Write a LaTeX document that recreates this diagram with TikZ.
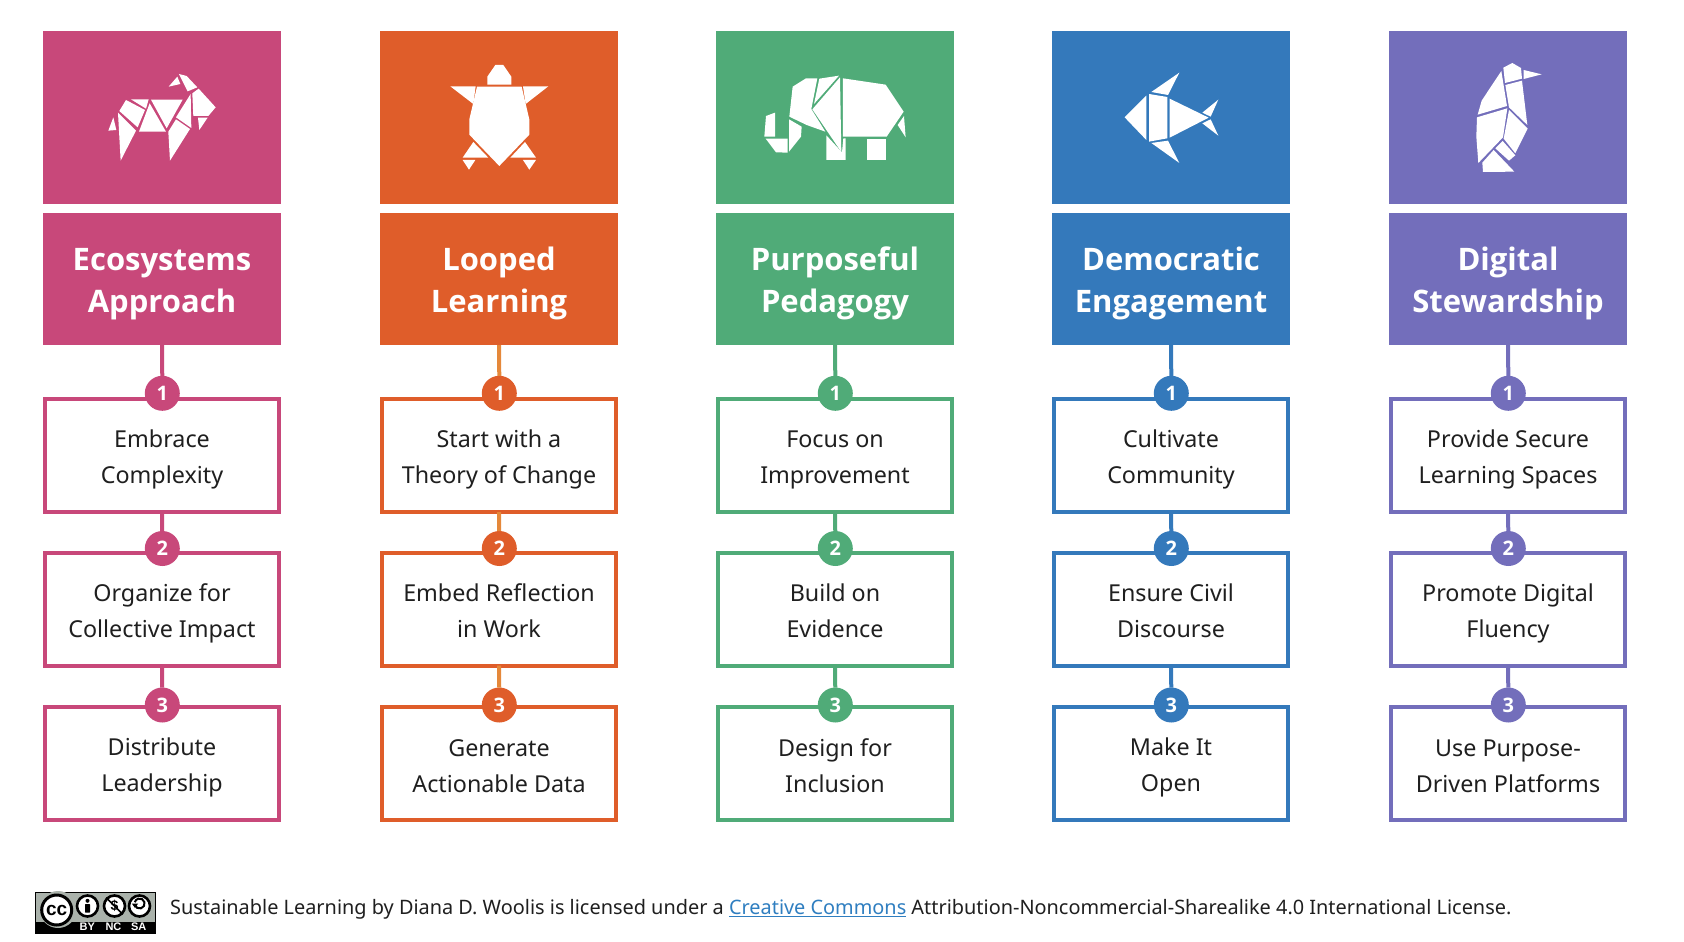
\documentclass[tikz,border=0pt]{standalone}
\usepackage{fontspec}
\setmainfont{Noto Sans}
\newfontfamily\headface{Open Sans}
\newfontfamily\ccface{Liberation Sans}
\definecolor{ecopink}{HTML}{C8487A}
\definecolor{loopred}{HTML}{DF5D2A}
\definecolor{looplink}{HTML}{E5883A}
\definecolor{purpgreen}{HTML}{50AB78}
\definecolor{demoblue}{HTML}{3479BB}
\definecolor{digipurple}{HTML}{736EBB}
\definecolor{inktext}{HTML}{1F1F1F}
\definecolor{linkblue}{HTML}{2F7EC0}
\definecolor{ccgray}{HTML}{AAB2AB}
\newcommand{\headlines}[2]{\rule{0pt}{32pt}#1\\#2\rule[-6.6pt]{0pt}{6.6pt}}
\newcommand{\boxlines}[2]{\rule{0pt}{26pt}#1\\#2\rule[-5pt]{0pt}{5pt}}
\tikzset{
  tile/.style={fill=#1,minimum width=238pt,minimum height=173pt,inner sep=0pt,outer sep=0pt},
  head/.style={fill=#1,minimum width=238pt,minimum height=132pt,inner sep=0pt,outer sep=0pt,text=white,align=center,
    font=\fontsize{31}{41.5}\selectfont\headface\bfseries},
  stepbox/.style={draw=#1,line width=4pt,fill=white,minimum width=234pt,minimum height=113pt,inner sep=0pt,outer sep=0pt,
    text=inktext,align=center,font=\fontsize{23.3}{36}\selectfont},
  num/.style={circle,fill=#1,minimum size=35pt,inner sep=0pt,outer sep=0pt,text=white,font=\fontsize{20}{20}\selectfont\headface\bfseries},
  link/.style={draw=#1,line width=4pt},
  shard/.style={fill=white},
  icon/.style={x=0.3333pt,y=-0.3333pt},
  ccring/.style={circle,draw=black,line width=2.6pt,fill=white,minimum size=21pt,inner sep=0pt},
  cclabel/.style={text=white,inner sep=0pt,font=\fontsize{11}{11}\selectfont\ccface\bfseries},
}
\begin{document}
\begin{tikzpicture}[x=1pt,y=-1pt]
\useasboundingbox (0,0) rectangle (1684,942);
\node[tile=ecopink] (tile1) at (162,117.5) {};
\node[tile=loopred] (tile2) at (499,117.5) {};
\node[tile=purpgreen] (tile3) at (835,117.5) {};
\node[tile=demoblue] (tile4) at (1171,117.5) {};
\node[tile=digipurple] (tile5) at (1508,117.5) {};
\node[head=ecopink] (head1) at (162,279) {\headlines{Ecosystems}{Approach}};
\node[head=loopred] (head2) at (499,279) {\headlines{Looped}{Learning}};
\node[head=purpgreen] (head3) at (835,279) {\headlines{Purposeful}{Pedagogy}};
\node[head=demoblue] (head4) at (1171,279) {\headlines{Democratic}{Engagement}};
\node[head=digipurple] (head5) at (1508,279) {\headlines{Digital}{Stewardship}};
\node[stepbox=ecopink] (box11) at (162,455.5) {\boxlines{Embrace}{Complexity}};
\node[stepbox=ecopink] (box12) at (162,609) {\boxlines{Organize for}{Collective Impact}};
\node[stepbox=ecopink] (box13) at (162,763.5) {\boxlines{Distribute}{Leadership}};
\node[stepbox=loopred] (box21) at (499,455.5) {\boxlines{Start with a}{Theory of Change}};
\node[stepbox=loopred] (box22) at (499,609) {\boxlines{Embed Reflection}{in Work}};
\node[stepbox=loopred] (box23) at (499,763.5) {\boxlines{Generate}{Actionable Data}};
\node[stepbox=purpgreen] (box31) at (835,455.5) {\boxlines{Focus on}{Improvement}};
\node[stepbox=purpgreen] (box32) at (835,609) {\boxlines{Build on}{Evidence}};
\node[stepbox=purpgreen] (box33) at (835,763.5) {\boxlines{Design for}{Inclusion}};
\node[stepbox=demoblue] (box41) at (1171,455.5) {\boxlines{Cultivate}{Community}};
\node[stepbox=demoblue] (box42) at (1171,609) {\boxlines{Ensure Civil}{Discourse}};
\node[stepbox=demoblue] (box43) at (1171,763.5) {\boxlines{Make It}{Open}};
\node[stepbox=digipurple] (box51) at (1508,455.5) {\boxlines{Provide Secure}{Learning Spaces}};
\node[stepbox=digipurple] (box52) at (1508,609) {\boxlines{Promote Digital}{Fluency}};
\node[stepbox=digipurple] (box53) at (1508,763.5) {\boxlines{Use Purpose-}{Driven Platforms}};
\node[num=ecopink] (num11) at (162.3,393.3) {1};
\node[num=ecopink] (num12) at (162.3,548.5) {2};
\node[num=ecopink] (num13) at (162.3,705) {3};
\node[num=loopred] (num21) at (499.3,393.3) {1};
\node[num=loopred] (num22) at (499.3,548.5) {2};
\node[num=loopred] (num23) at (499.3,705) {3};
\node[num=purpgreen] (num31) at (835.3,393.3) {1};
\node[num=purpgreen] (num32) at (835.3,548.5) {2};
\node[num=purpgreen] (num33) at (835.3,705) {3};
\node[num=demoblue] (num41) at (1171.3,393.3) {1};
\node[num=demoblue] (num42) at (1171.3,548.5) {2};
\node[num=demoblue] (num43) at (1171.3,705) {3};
\node[num=digipurple] (num51) at (1508.3,393.3) {1};
\node[num=digipurple] (num52) at (1508.3,548.5) {2};
\node[num=digipurple] (num53) at (1508.3,705) {3};
\draw[link=ecopink] (head1) -- (num11);
\draw[link=ecopink] (box11) -- (num12);
\draw[link=ecopink] (box12) -- (num13);
\draw[link=looplink] (head2) -- (num21);
\draw[link=looplink] (box21) -- (num22);
\draw[link=looplink] (box22) -- (num23);
\draw[link=purpgreen] (head3) -- (num31);
\draw[link=purpgreen] (box31) -- (num32);
\draw[link=purpgreen] (box32) -- (num33);
\draw[link=demoblue] (head4) -- (num41);
\draw[link=demoblue] (box41) -- (num42);
\draw[link=demoblue] (box42) -- (num43);
\draw[link=digipurple] (head5) -- (num51);
\draw[link=digipurple] (box51) -- (num52);
\draw[link=digipurple] (box52) -- (num53);
\begin{scope}[shift={(40,30)},icon]
\fill[shard] (386,170) -- (412,140) -- (421,162) -- cycle;
\fill[shard] (417,132) -- (440,138) -- (472,172) -- (443,184) -- cycle;
\fill[shard] (457,190) -- (476,176) -- (527,232) -- (505,258) -- (460,258) -- cycle;
\fill[shard] (474,263) -- (503,263) -- (478,300) -- cycle;
\fill[shard] (452,192) -- (454,294) -- (408,262) -- cycle;
\fill[shard] (333,209) -- (428,209) -- (380,295) -- cycle;
\fill[shard] (329,220) -- (378,305) -- (297,305) -- cycle;
\fill[shard] (408,268) -- (450,297) -- (390,392) -- (385,305) -- cycle;
\fill[shard] (273,208) -- (326,208) -- (318,236) -- cycle;
\fill[shard] (258,210) -- (315,240) -- (293,292) -- (238,243) -- cycle;
\fill[shard] (234,248) -- (288,302) -- (242,392) -- cycle;
\fill[shard] (220,262) -- (229,300) -- (205,302) -- cycle;
\end{scope}
\begin{scope}[shift={(375,30)},icon]
\fill[shard] (337,164) -- (337,140) -- (361,105) -- (385,105) -- (409,140) -- (409,164) -- cycle;
\fill[shard] (226,169) -- (302,169) -- (295,222) -- cycle;
\fill[shard] (444,169) -- (520,169) -- (452,222) -- cycle;
\fill[shard] (306,170) -- (440,170) -- (463,268) -- (463,314) -- (373,408) -- (283,314) -- (283,268) -- cycle;
\fill[shard] (263,383) -- (295,336) -- (340,383) -- cycle;
\fill[shard] (406,383) -- (450,336) -- (483,383) -- cycle;
\fill[shard] (263,390) -- (301,390) -- (282,419) -- cycle;
\fill[shard] (444,390) -- (483,390) -- (463,419) -- cycle;
\end{scope}
\begin{scope}[shift={(710,30)},icon]
\fill[shard] (168,258) -- (195,248) -- (195,320) -- (163,320) -- cycle;
\fill[shard] (167,326) -- (233,326) -- (233,368) -- (198,367) -- cycle;
\fill[shard] (237,268) -- (275,290) -- (273,320) -- (237,365) -- cycle;
\fill[shard] (248,170) -- (288,145) -- (322,145) -- (304,237) -- (346,305) -- (290,285) -- (238,260) -- cycle;
\fill[shard] (328,146) -- (387,137) -- (312,222) -- cycle;
\fill[shard] (390,142) -- (394,366) -- (307,238) -- cycle;
\fill[shard] (349,316) -- (396,367) -- (400,325) -- (407,325) -- (407,390) -- (349,390) -- cycle;
\fill[shard] (399,145) -- (527,164) -- (581,245) -- (530,320) -- (399,320) -- cycle;
\fill[shard] (471,327) -- (529,327) -- (529,390) -- (471,390) -- cycle;
\fill[shard] (582,258) -- (587,322) -- (563,285) -- cycle;
\end{scope}
\begin{scope}[shift={(1050,30)},icon]
\fill[shard] (304,186) -- (388,128) -- (354,195) -- cycle;
\fill[shard] (304,339) -- (354,332) -- (388,399) -- cycle;
\fill[shard] (224,262) -- (289,197) -- (289,330) -- cycle;
\fill[shard] (297,192) -- (352,201) -- (352,325) -- (297,335) -- cycle;
\fill[shard] (359,206) -- (476,263) -- (359,323) -- cycle;
\fill[shard] (457,248) -- (505,209) -- (482,260) -- cycle;
\fill[shard] (457,280) -- (482,268) -- (505,317) -- cycle;
\end{scope}
\begin{scope}[shift={(1385,30)},icon]
\fill[shard] (355,113) -- (382,99) -- (408,114) -- (411,146) -- (360,159) -- cycle;
\fill[shard] (416,120) -- (470,133) -- (416,147) -- cycle;
\fill[shard] (349,123) -- (366,228) -- (278,254) -- (290,212) -- cycle;
\fill[shard] (361,165) -- (411,152) -- (427,285) -- (372,232) -- cycle;
\fill[shard] (276,262) -- (367,235) -- (354,322) -- (280,399) -- (274,320) -- cycle;
\fill[shard] (372,240) -- (428,296) -- (391,370) -- (356,326) -- cycle;
\fill[shard] (353,333) -- (391,376) -- (372,392) -- (331,355) -- cycle;
\fill[shard] (326,360) -- (388,425) -- (294,426) -- (292,398) -- cycle;
\end{scope}
\fill[ccgray,draw=black,line width=0.5pt] (35,892) rectangle (155,933);
\fill[black] (35,922.3) rectangle (155,933);
\fill[ccgray] (58,909.5) circle[radius=18.5];
\node[ccring,line width=3pt,minimum size=30pt,font=\fontsize{19}{19}\selectfont\ccface\bfseries] (ccmark) at (56.7,910) {cc};
\node[ccring] (bymark) at (87.5,906) {};
\fill[black] (87.5,900.8) circle[radius=2];
\fill[black,rounded corners=0.5pt] (85,904) rectangle (90,912.5);
\node[ccring,font=\fontsize{14}{14}\selectfont\ccface\bfseries] (ncmark) at (114.5,906) {\$};
\draw[black,line width=1.6pt] (ncmark.north west) -- (ncmark.south east);
\node[ccring] (samark) at (139.5,906) {};
\draw[black,line width=2pt] (134.8,904.8) arc[start angle=165,end angle=-165,radius=5];
\fill[black] (131.8,903.5) -- (138.2,903.5) -- (135,908) -- cycle;
\node[cclabel] (bytext) at (87.3,926.7) {BY};
\node[cclabel] (nctext) at (113.5,926.7) {NC};
\node[cclabel] (satext) at (138.7,926.7) {SA};
\node[anchor=west,inner sep=0pt,text=inktext,font=\fontsize{19.9}{24}\selectfont] (credit) at (170,909.5)
  {Sustainable Learning by Diana D. Woolis is licensed under a \textcolor{linkblue}{\underline{Creative Commons}} Attribution-Noncommercial-Sharealike 4.0 International License.};
\end{tikzpicture}
\end{document}
